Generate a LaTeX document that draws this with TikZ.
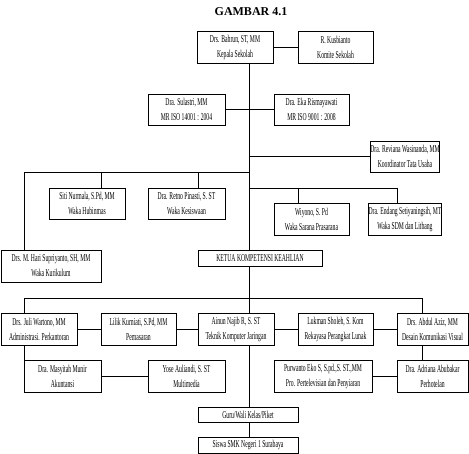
\documentclass[tikz,border=0pt]{standalone}
\usepackage{fontspec}
\setmainfont{Liberation Serif}
\newfontfamily\narrowfont{Liberation Serif}[FakeStretch=0.54]
\usetikzlibrary{positioning}

\begin{document}
\begin{tikzpicture}[x=1pt,y=-1pt,
  box/.style={draw,line width=0.7pt,inner sep=0pt,align=center,minimum height=32pt,
    font=\narrowfont\fontsize{10.5}{15}\selectfont},
  wire/.style={line width=0.7pt}]
\useasboundingbox (0,0) rectangle (469,454);
\node[font=\bfseries\fontsize{12}{14}\selectfont] (title) at (251,12) {GAMBAR 4.1};
% pimpinan
\node[box,minimum width=76pt] (kepala) at (235,47) {Drs. Bahrun, ST, MM\\Kepala Sekolah};
\node[box,minimum width=75pt] (komite) at (335.5,47) {R. Kusbianto\\Komite Sekolah};
\node[box,minimum width=77pt,minimum height=31pt] (sulastri) at (186.5,109.5) {Dra. Sulastri, MM\\MR ISO 14001 : 2004};
\node[box,minimum width=75pt,minimum height=31pt] (eka) at (311.5,109.5) {Dra. Eka Rismayawati\\MR ISO 9001 : 2008};
\node[box,minimum width=64pt,minimum height=31pt] (reviana) at (405,156.5) {Dra. Reviana Wasinanda, MM\\Koordinator Tata Usaha};
% wakil kepala
\node[box,minimum width=76pt,minimum height=31pt] (siti) at (87,203.5) {Siti Nurmala, S.Pd, MM\\Waka Hubinmas};
\node[box,minimum width=77pt,minimum height=31pt] (retno) at (186.5,203.5) {Dra. Retno Pinasti, S. ST\\Waka Kesiswaan};
\node[box,minimum width=75pt] (wiyono) at (311.5,219) {Wiyono, S. Pd\\Waka Sarana Prasarana};
\node[box,minimum width=64pt] (endang) at (405,219) {Dra. Endang Setiyaningsih, MT\\Waka SDM dan Litbang};
\node[box,minimum width=100pt] (hari) at (51,266) {Drs. M. Hari Supriyanto, SH, MM\\Waka Kurikulum};
\node[box,minimum width=124pt,minimum height=16pt] (ketua) at (260,258) {KETUA KOMPETENSI KEAHLIAN};
% kompetensi keahlian
\node[box,minimum width=76pt] (juli) at (39,329) {Drs. Juli Wartono, MM\\Administrasi. Perkantoran};
\node[box,minimum width=75pt] (lilik) at (138.5,329) {Lilik Kurniati, S.Pd, MM\\Pemasaran};
\node[box,minimum width=76pt] (ainun) at (236,329) {Ainun Najib R, S. ST\\Teknik Komputer Jaringan};
\node[box,minimum width=75pt] (lukman) at (335.5,329) {Lukman Sholeh, S. Kom\\Rekayasa Perangkat Lunak};
\node[box,minimum width=71pt] (abdul) at (432.5,329) {Drs. Abdul Aziz, MM\\Desain Komunikasi Visual};
\node[box,minimum width=77pt] (masyitah) at (62.5,376) {Dra. Masyitah Munir\\Akuntansi};
\node[box,minimum width=77pt] (yose) at (186.5,376) {Yose Auliandi, S. ST\\Multimedia};
\node[box,minimum width=98pt] (purwanto) at (323,376) {Purwanto Eko S, S.pd.,S. ST.,MM\\Pro. Pertelevisian dan Penyiaran};
\node[box,minimum width=71pt] (adriana) at (432.5,376) {Dra. Adriana Abubakar\\Perhotelan};
\node[box,minimum width=100pt,minimum height=15pt] (guru) at (248,414.5) {Guru/Wali Kelas/Piket};
\node[box,minimum width=100pt,minimum height=16pt] (siswa) at (248,445) {Siswa SMK Negeri 1 Surabaya};
% garis
\coordinate (spine) at (249,0);
\coordinate (lbar) at (24,172);
\coordinate (rbar) at (397,188);
\coordinate (bbar) at (24,298);
\coordinate (bend) at (422,298);
\draw[wire] (kepala.east) -- (komite.west);
\draw[wire] (kepala.south -| spine) -- (ketua.north -| spine);
\draw[wire] (sulastri.east) -- (eka.west);
\draw[wire] (spine |- reviana.west) -- (reviana.west);
\draw[wire] (spine |- lbar) -- (lbar) -- (lbar |- hari.north);
\foreach \x/\n in {101/siti,198/retno}
  \draw[wire] (\x,172) -- (\x,0 |- \n.north);
\draw[wire] (spine |- rbar) -- (rbar) -- (rbar |- endang.north);
\draw[wire] (298,188) -- (298,0 |- wiyono.north);
\draw[wire] (ketua.south -| spine) -- (spine |- bbar);
\draw[wire] (bbar) -- (bend) -- (bend |- abdul.north);
\draw[wire] (bbar) -- (bbar |- juli.north);
\draw[wire] (spine |- bbar) -- (spine |- ainun.north);
\draw[wire] (juli.east) -- (lilik.west);
\draw[wire] (lilik.east) -- (ainun.west);
\draw[wire] (ainun.east) -- (lukman.west);
\draw[wire] (lukman.east) -- (abdul.west);
\draw[wire] (bbar |- juli.south) -- (bbar |- masyitah.north);
\draw[wire] (masyitah.east) -- (yose.west);
\draw[wire] (bend |- abdul.south) -- (bend |- adriana.north);
\draw[wire] (purwanto.east) -- (adriana.west);
\draw[wire] (spine |- ainun.south) -- (spine |- guru.north);
\draw[wire] (spine |- guru.south) -- (spine |- siswa.north);
\end{tikzpicture}
\end{document}
